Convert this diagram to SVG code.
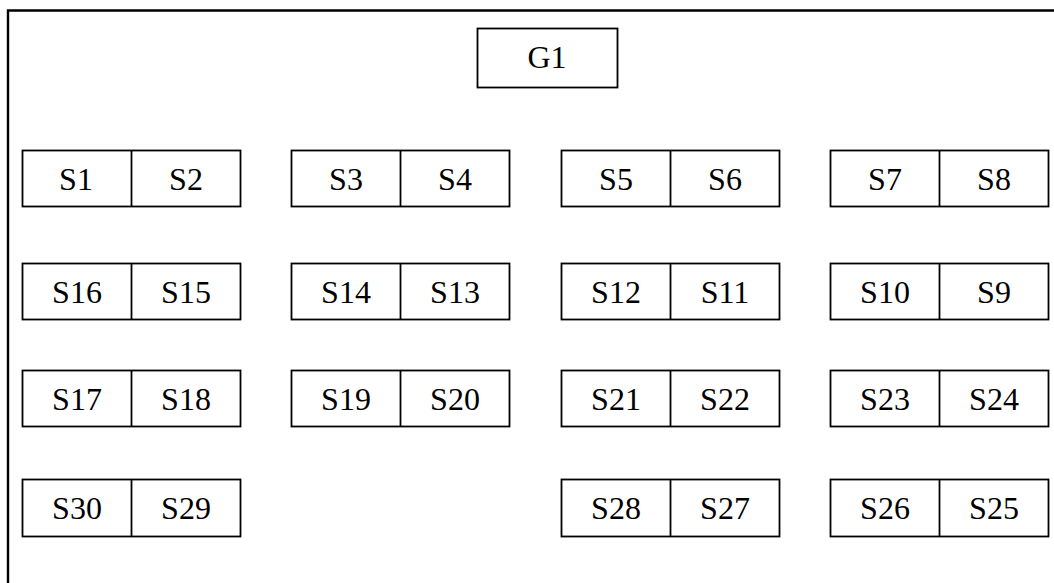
<svg xmlns="http://www.w3.org/2000/svg" width="1054" height="583" viewBox="0 0 1054 583">
<style>
.b{fill:#fff;stroke:#000;stroke-width:1.8}
.d{stroke:#000;stroke-width:1.8}
.t{font-family:"Liberation Serif","Times New Roman",serif;font-size:32px;fill:#000;text-anchor:middle}
</style>
<rect width="1054" height="583" fill="#fff"/>
<path d="M8,583 V10.5 H1054" fill="none" stroke="#000" stroke-width="2.4"/>
<g id="G1"><rect class="b" x="477.5" y="28.5" width="140" height="59"/><text class="t" x="547" y="68">G1</text></g>
<g id="row1">
<g id="S1-S2"><rect class="b" x="22.5" y="150.5" width="218" height="56"/><line class="d" x1="131.5" y1="150.5" x2="131.5" y2="206.5"/><text class="t" x="76" y="190">S1</text><text class="t" x="186" y="190">S2</text></g>
<g id="S3-S4"><rect class="b" x="291.5" y="150.5" width="218" height="56"/><line class="d" x1="400.5" y1="150.5" x2="400.5" y2="206.5"/><text class="t" x="346" y="190">S3</text><text class="t" x="455" y="190">S4</text></g>
<g id="S5-S6"><rect class="b" x="561.5" y="150.5" width="218" height="56"/><line class="d" x1="670.5" y1="150.5" x2="670.5" y2="206.5"/><text class="t" x="616" y="190">S5</text><text class="t" x="725" y="190">S6</text></g>
<g id="S7-S8"><rect class="b" x="830.5" y="150.5" width="218" height="56"/><line class="d" x1="939.5" y1="150.5" x2="939.5" y2="206.5"/><text class="t" x="885" y="190">S7</text><text class="t" x="994" y="190">S8</text></g>
</g>
<g id="row2">
<g id="S16-S15"><rect class="b" x="22.5" y="263.5" width="218" height="56"/><line class="d" x1="131.5" y1="263.5" x2="131.5" y2="319.5"/><text class="t" x="77" y="303">S16</text><text class="t" x="186" y="303">S15</text></g>
<g id="S14-S13"><rect class="b" x="291.5" y="263.5" width="218" height="56"/><line class="d" x1="400.5" y1="263.5" x2="400.5" y2="319.5"/><text class="t" x="346" y="303">S14</text><text class="t" x="455" y="303">S13</text></g>
<g id="S12-S11"><rect class="b" x="561.5" y="263.5" width="218" height="56"/><line class="d" x1="670.5" y1="263.5" x2="670.5" y2="319.5"/><text class="t" x="616" y="303">S12</text><text class="t" x="725" y="303">S11</text></g>
<g id="S10-S9"><rect class="b" x="830.5" y="263.5" width="218" height="56"/><line class="d" x1="939.5" y1="263.5" x2="939.5" y2="319.5"/><text class="t" x="885" y="303">S10</text><text class="t" x="994" y="303">S9</text></g>
</g>
<g id="row3">
<g id="S17-S18"><rect class="b" x="22.5" y="370.5" width="218" height="56"/><line class="d" x1="131.5" y1="370.5" x2="131.5" y2="426.5"/><text class="t" x="77" y="410">S17</text><text class="t" x="186" y="410">S18</text></g>
<g id="S19-S20"><rect class="b" x="291.5" y="370.5" width="218" height="56"/><line class="d" x1="400.5" y1="370.5" x2="400.5" y2="426.5"/><text class="t" x="346" y="410">S19</text><text class="t" x="455" y="410">S20</text></g>
<g id="S21-S22"><rect class="b" x="561.5" y="370.5" width="218" height="56"/><line class="d" x1="670.5" y1="370.5" x2="670.5" y2="426.5"/><text class="t" x="616" y="410">S21</text><text class="t" x="725" y="410">S22</text></g>
<g id="S23-S24"><rect class="b" x="830.5" y="370.5" width="218" height="56"/><line class="d" x1="939.5" y1="370.5" x2="939.5" y2="426.5"/><text class="t" x="885" y="410">S23</text><text class="t" x="994" y="410">S24</text></g>
</g>
<g id="row4">
<g id="S30-S29"><rect class="b" x="22.5" y="479.5" width="218" height="57"/><line class="d" x1="131.5" y1="479.5" x2="131.5" y2="536.5"/><text class="t" x="77" y="519">S30</text><text class="t" x="186" y="519">S29</text></g>
<g id="S28-S27"><rect class="b" x="561.5" y="479.5" width="218" height="57"/><line class="d" x1="670.5" y1="479.5" x2="670.5" y2="536.5"/><text class="t" x="616" y="519">S28</text><text class="t" x="725" y="519">S27</text></g>
<g id="S26-S25"><rect class="b" x="830.5" y="479.5" width="218" height="57"/><line class="d" x1="939.5" y1="479.5" x2="939.5" y2="536.5"/><text class="t" x="885" y="519">S26</text><text class="t" x="994" y="519">S25</text></g>
</g>
<g id="connectors"/>
</svg>
